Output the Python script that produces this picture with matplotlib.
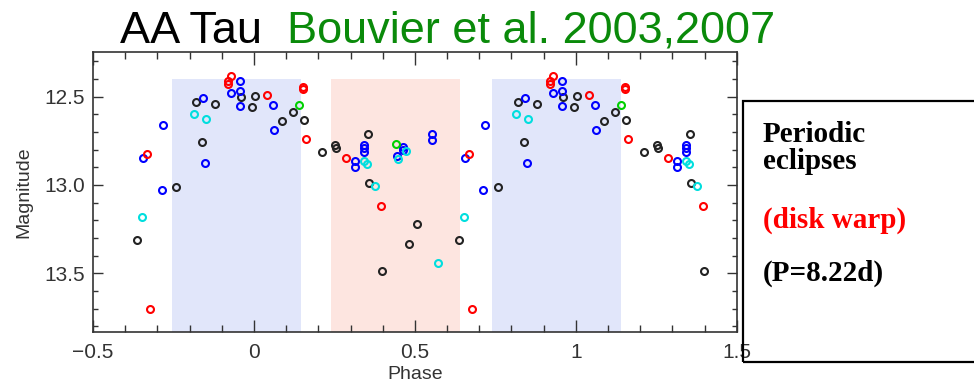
import numpy as np
import matplotlib
matplotlib.use('Agg')
import matplotlib.pyplot as plt
from matplotlib.patches import Rectangle
from matplotlib.ticker import MultipleLocator

# AA Tau light curve folded on P = 8.22 d (phase in [0, 1))
black_phase = [0.004, 0.087, 0.120, 0.155, 0.211, 0.253, 0.255, 0.354, 0.357, 0.397,
               0.481, 0.507, 0.637, 0.758, 0.821, 0.840, 0.880, 0.961, 0.994]
black_mag = [12.498, 12.638, 12.585, 12.632, 12.813, 12.774, 12.790, 12.713, 12.990, 13.487,
             13.336, 13.221, 13.313, 13.010, 12.530, 12.756, 12.540, 12.502, 12.557]

blue_phase = [0.059, 0.061, 0.315, 0.315, 0.341, 0.341, 0.341, 0.443, 0.463, 0.463,
              0.554, 0.554, 0.656, 0.713, 0.718, 0.843, 0.849, 0.929, 0.956, 0.956, 0.956]
blue_mag = [12.547, 12.690, 12.864, 12.896, 12.774, 12.792, 12.813, 12.834, 12.787, 12.800,
            12.711, 12.747, 12.845, 13.028, 12.660, 12.509, 12.875, 12.477, 12.410, 12.466, 12.551]

red_phase = [0.042, 0.152, 0.152, 0.163, 0.287, 0.396, 0.669, 0.676, 0.920, 0.920, 0.930]
red_mag = [12.490, 12.443, 12.458, 12.740, 12.847, 13.119, 12.824, 13.700, 12.410, 12.430, 12.383]

cyan_phase = [0.342, 0.350, 0.375, 0.448, 0.472, 0.571, 0.651, 0.814, 0.851]
cyan_mag = [12.862, 12.880, 13.006, 12.851, 12.806, 13.440, 13.183, 12.600, 12.626]

green_phase = [0.141, 0.441]
green_mag = [12.549, 12.766]

# shaded phase intervals: bright (blue) and eclipse (pink)
bright_spans = [(-0.255, 0.145), (0.74, 1.14)]
eclipse_spans = [(0.24, 0.64)]
span_top = 12.4

phase_min, phase_max = -0.4, 1.4

fig = plt.figure(figsize=(9.74, 3.82), dpi=100)
ax = fig.add_axes([0.0955, 0.131, 0.661, 0.733])
ax.set_xlim(-0.5, 1.5)
ax.set_ylim(13.832, 12.247)

for x0, x1 in bright_spans:
    ax.add_patch(Rectangle((x0, span_top), x1 - x0, 2.0, facecolor='#e1e6fa',
                           edgecolor='none', zorder=0))
for x0, x1 in eclipse_spans:
    ax.add_patch(Rectangle((x0, span_top), x1 - x0, 2.0, facecolor='#fde5e0',
                           edgecolor='none', zorder=0))

series = [
    (black_phase, black_mag, '#222222'),
    (blue_phase, blue_mag, '#0000ff'),
    (red_phase, red_mag, '#ff0000'),
    (cyan_phase, cyan_mag, '#00dede'),
    (green_phase, green_mag, '#00d000'),
]
for ph, mag, col in series:
    ph = np.asarray(ph)
    mag = np.asarray(mag)
    # repeat each cycle so the curve is shown over 1.8 periods
    x = np.concatenate([ph - 1, ph, ph + 1])
    y = np.tile(mag, 3)
    keep = (x >= phase_min) & (x <= phase_max)
    ax.plot(x[keep], y[keep], 'o', mfc='none', mec=col, ms=5.0, mew=1.5, zorder=3)

ax.xaxis.set_major_locator(MultipleLocator(0.5))
ax.xaxis.set_minor_locator(MultipleLocator(0.1))
ax.yaxis.set_major_locator(MultipleLocator(0.5))
ax.yaxis.set_minor_locator(MultipleLocator(0.1))
ax.set_xticks([-0.5, 0, 0.5, 1, 1.5])
ax.set_xticklabels(['\u22120.5', '0', '0.5', '1', '1.5'])
ax.tick_params(which='both', direction='in', top=True, right=True, color='#333333',
               labelcolor='#333333', labelsize=15, width=1.0)
ax.tick_params(axis='x', which='major', length=9, pad=8)
ax.tick_params(axis='x', which='minor', length=5)
ax.tick_params(axis='y', which='major', length=7, pad=6)
ax.tick_params(axis='y', which='minor', length=3.6)
for lab in ax.get_xticklabels() + ax.get_yticklabels():
    lab.set_fontfamily('Liberation Sans')
for sp in ax.spines.values():
    sp.set_linewidth(1.2)
    sp.set_color('#333333')

ax.set_xlabel('Phase', fontsize=14, family='Liberation Sans', color='#333333', labelpad=3)
ax.set_ylabel('Magnitude', fontsize=14, family='Liberation Sans', color='#333333', labelpad=8)

fig.text(0.123, 0.888, 'AA Tau', fontsize=32.5, family='Liberation Sans', color='black',
         va='baseline')
fig.text(0.295, 0.888, 'Bouvier et al. 2003,2007', fontsize=32.5, family='Liberation Sans',
         color='#0a8a0a', va='baseline')

# note box on the right
fig.add_artist(Rectangle((0.7628, 0.053), 0.26, 0.683, transform=fig.transFigure,
                         facecolor='none', edgecolor='black', linewidth=1.6,
                         clip_on=False, zorder=5))
note_kw = dict(fontsize=21, family='Liberation Serif', fontweight='bold', va='baseline',
               zorder=6)
fig.text(0.783, 1 - 142 / 382, 'Periodic', color='black', **note_kw)
fig.text(0.783, 1 - 169 / 382, 'eclipses', color='black', **note_kw)
fig.text(0.783, 1 - 228 / 382, '(disk warp)', color='#ff0000', **note_kw)
fig.text(0.783, 1 - 281 / 382, '(P=8.22d)', color='black', **note_kw)

fig.savefig('out.png', dpi=100)
